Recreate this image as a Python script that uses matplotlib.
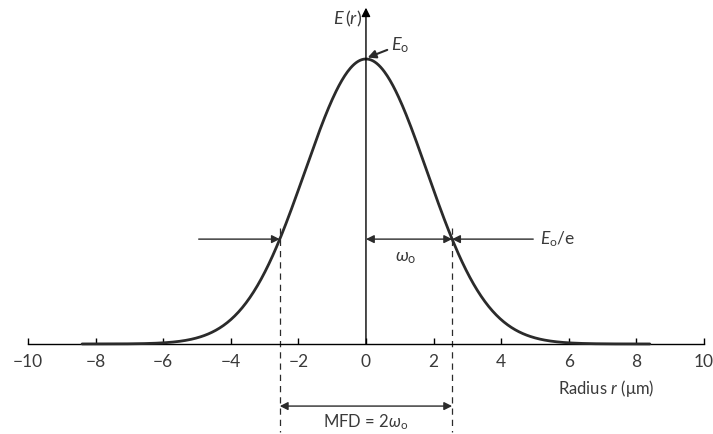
import matplotlib
matplotlib.use("Agg")
import matplotlib.pyplot as plt
import numpy as np

# Gaussian mode field E(r) = E0 * exp(-(r/w0)^2)
E0 = 1.0
w0 = 2.55          # mode field radius (um)
r_span = 8.4       # extent of the drawn curve
tick_vals = [-10, -8, -6, -4, -2, 0, 2, 4, 6, 8, 10]
tick_labels = ["\u221210", "\u22128", "\u22126", "\u22124", "\u22122", "0", "2", "4", "6", "8", "10"]

ink = "#2b2b2b"
txt = "#3a3a3a"

plt.rcParams["font.family"] = ["Lato", "DejaVu Sans"]
plt.rcParams["mathtext.fontset"] = "custom"
plt.rcParams["mathtext.rm"] = "Lato"
plt.rcParams["mathtext.it"] = "Lato:italic"

fig = plt.figure(figsize=(7.13, 4.34), dpi=100)
ax = fig.add_axes([0, 0, 1, 1])
ax.set_xlim(-10.83, 10.27)
ax.set_ylim(-0.316, 1.207)

r = np.linspace(-r_span, r_span, 600)
E = E0 * np.exp(-(r / w0) ** 2)
ax.plot(r, E, color=ink, lw=2.0, solid_capstyle="round", zorder=3)

# axes through the origin
for side in ["top", "right"]:
    ax.spines[side].set_visible(False)
ax.spines["bottom"].set_position(("data", 0))
ax.spines["bottom"].set_bounds(-10, 10)
ax.spines["bottom"].set_linewidth(1.0)
ax.spines["left"].set_visible(False)
ax.set_xticks(tick_vals)
ax.set_xticklabels(tick_labels)
ax.tick_params(axis="x", direction="in", length=4, width=1.0, pad=7,
               labelsize=12.5, labelcolor=txt, color="black")
ax.set_yticks([])

# vertical axis with arrow
ax.annotate("", xy=(0, 1.18), xytext=(0, 0),
            arrowprops=dict(arrowstyle="-|>", color="black", lw=1.0,
                            mutation_scale=13, shrinkA=0, shrinkB=0))
ax.text(-0.12, 1.14, r"$E\,(r)$", ha="right", va="center", fontsize=13, color=txt)

# peak label
ax.annotate(r"$E_{\mathregular{o}}$", xy=(0.05, E0 + 0.005), xytext=(0.75, 1.05),
            fontsize=13, color=txt, va="center",
            arrowprops=dict(arrowstyle="-|>", color=ink, lw=1.5,
                            mutation_scale=12, shrinkA=1, shrinkB=0))

# dashed lines at +-w0
level = E0 / np.e
for xv in (-w0, w0):
    ax.plot([xv, xv], [level + 0.04, -0.31], color=ink, lw=0.9,
            ls=(0, (5, 4)), zorder=2)

# arrows marking the 1/e level
arr = dict(arrowstyle="-|>", color=ink, lw=1.0, mutation_scale=12, shrinkA=0, shrinkB=0)
ax.annotate("", xy=(-w0, level), xytext=(-4.95, level), arrowprops=arr)
ax.annotate("", xy=(w0, level), xytext=(4.95, level), arrowprops=arr)
ax.annotate("", xy=(0, level), xytext=(w0, level),
            arrowprops=dict(arrowstyle="<|-|>", color=ink, lw=1.0,
                            mutation_scale=12, shrinkA=0, shrinkB=0))
ax.text(w0 / 2 - 0.1, level - 0.065, r"$\omega_{\mathregular{o}}$", ha="center", va="center",
        fontsize=13, color=txt)
ax.text(5.15, level, r"$E_{\mathregular{o}}$/e", ha="left", va="center", fontsize=12.5, color=txt)

ax.text(7.1, -0.158, r"Radius $r$ ($\mathrm{\mu}$m)", ha="center", va="center",
        fontsize=12, color=txt)

# mode field diameter
ax.annotate("", xy=(-w0, -0.218), xytext=(w0, -0.218),
            arrowprops=dict(arrowstyle="<|-|>", color=ink, lw=1.0,
                            mutation_scale=12, shrinkA=0, shrinkB=0))
ax.text(0, -0.276, r"MFD = 2$\omega_{\mathregular{o}}$", ha="center", va="center",
        fontsize=12, color=txt)

fig.savefig("out.png", dpi=100, facecolor="white")
